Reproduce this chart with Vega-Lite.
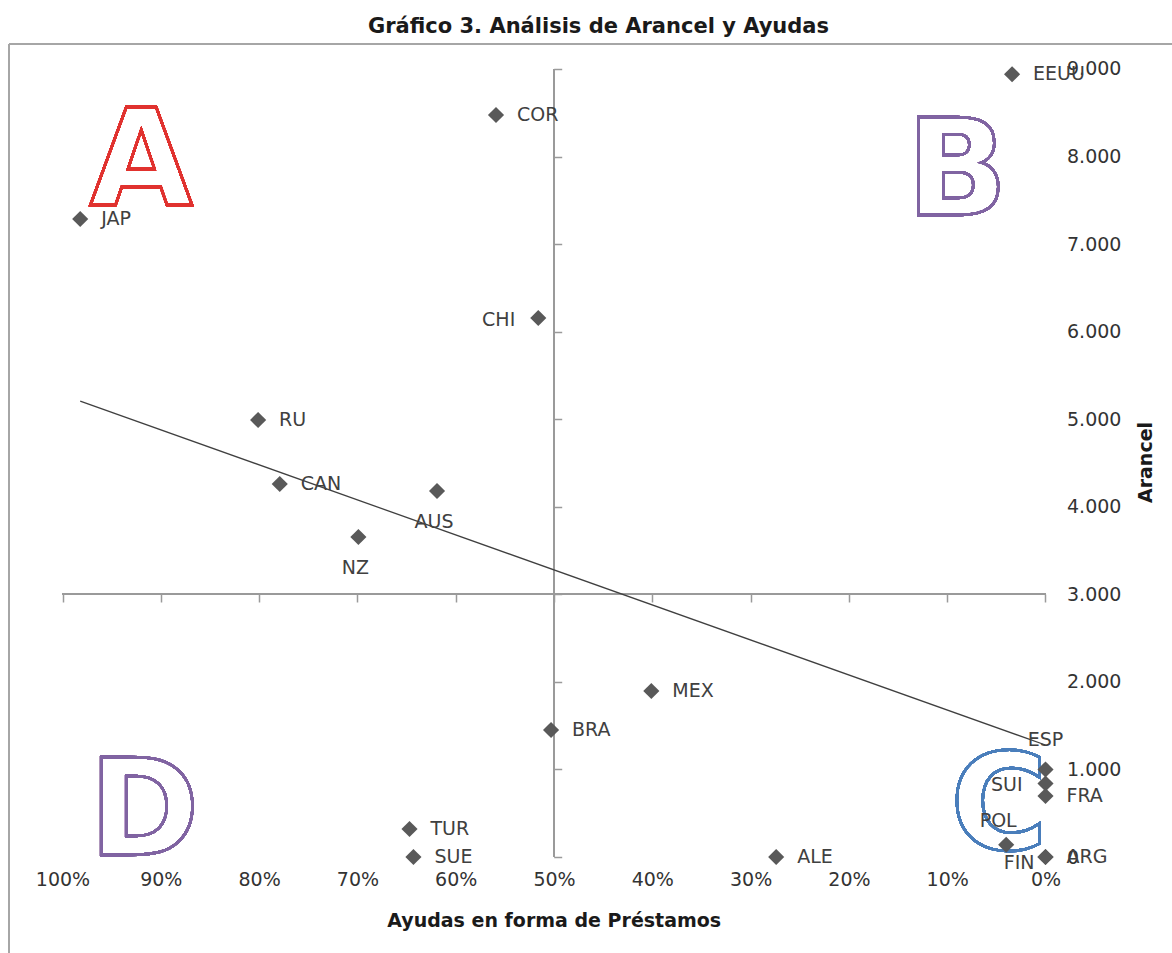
{
  "$schema": "https://vega.github.io/schema/vega-lite/v6.json",
  "autosize": {"type": "none"},
  "padding": {"left": 9, "top": 44, "right": 0, "bottom": 0},
  "width": 1163,
  "height": 909,
  "background": "white",
  "title": {"text": "Gráfico 3. Análisis de Arancel y Ayudas", "font": "DejaVu Sans", "fontSize": 21, "fontWeight": "bold", "color": "#1a1a1a", "anchor": "middle", "baseline": "bottom", "offset": 8, "dx": 8, "dy": 23},
  "config": {
    "view": {"stroke": null},
    "axis": {"grid": false, "labelFont": "DejaVu Sans", "titleFont": "DejaVu Sans"}
  },
  "data": {"values": [
    {"pais": "EEUU", "ayudas": 0.034, "arancel": 8940},
    {"pais": "COR", "ayudas": 0.559, "arancel": 8475},
    {"pais": "JAP", "ayudas": 0.982, "arancel": 7287},
    {"pais": "CHI", "ayudas": 0.516, "arancel": 6156},
    {"pais": "RU", "ayudas": 0.801, "arancel": 4991},
    {"pais": "CAN", "ayudas": 0.779, "arancel": 4260},
    {"pais": "AUS", "ayudas": 0.619, "arancel": 4180},
    {"pais": "NZ", "ayudas": 0.699, "arancel": 3655},
    {"pais": "MEX", "ayudas": 0.401, "arancel": 1896},
    {"pais": "BRA", "ayudas": 0.503, "arancel": 1450},
    {"pais": "TUR", "ayudas": 0.647, "arancel": 320},
    {"pais": "SUE", "ayudas": 0.643, "arancel": 0},
    {"pais": "ALE", "ayudas": 0.274, "arancel": 0},
    {"pais": "ESP", "ayudas": 0, "arancel": 1000},
    {"pais": "SUI", "ayudas": 0, "arancel": 840},
    {"pais": "FRA", "ayudas": 0, "arancel": 697},
    {"pais": "POL", "ayudas": 0.04, "arancel": 140},
    {"pais": "FIN", "ayudas": 0, "arancel": 0},
    {"pais": "ARG", "ayudas": 0, "arancel": 0}
  ]},
  "resolve": {"axis": {"x": "independent", "y": "independent"}},
  "layer": [
    {
      "mark": {"type": "rule", "color": "#a6a6a6", "strokeWidth": 2},
      "encoding": {
        "y": {"datum": 9285.5, "type": "quantitative", "scale": {"domain": [-1096.4, 9285.5], "nice": false, "zero": false}, "axis": null},
        "x": {"datum": -0.12869, "type": "quantitative", "scale": {"domain": [-0.12869, 1.05443], "reverse": true, "nice": false, "zero": false}, "axis": null},
        "x2": {"datum": 1.05443}
      }
    },
    {
      "mark": {"type": "rule", "color": "#a6a6a6", "strokeWidth": 2},
      "encoding": {
        "x": {"datum": 1.05443, "type": "quantitative", "scale": {"domain": [-0.12869, 1.05443], "reverse": true, "nice": false, "zero": false}, "axis": null},
        "y": {"datum": -1096.4, "type": "quantitative", "scale": {"domain": [-1096.4, 9285.5], "nice": false, "zero": false}, "axis": null},
        "y2": {"datum": 9285.5}
      }
    },
    {
      "mark": {"type": "rule", "color": "#9a9a9a", "strokeWidth": 1.5},
      "encoding": {
        "x": {"datum": 0.5, "type": "quantitative", "scale": {"domain": [-0.12869, 1.05443], "reverse": true, "nice": false, "zero": false},
              "axis": {"orient": "bottom", "offset": -359, "values": [0, 0.1, 0.2, 0.3, 0.4, 0.5, 0.6, 0.7, 0.8, 0.9, 1], "domain": false, "labels": false, "ticks": true, "tickSize": 8, "tickColor": "#9a9a9a", "tickWidth": 1.5, "title": null}},
        "y": {"datum": 0, "type": "quantitative", "scale": {"domain": [-1096.4, 9285.5], "nice": false, "zero": false},
              "axis": {"orient": "right", "offset": -618.3, "values": [0, 1000, 2000, 3000, 4000, 5000, 6000, 7000, 8000, 9000], "domain": false, "labels": false, "ticks": true, "tickSize": 8, "tickColor": "#9a9a9a", "tickWidth": 1.5, "title": null}},
        "y2": {"datum": 9000}
      }
    },
    {
      "mark": {"type": "rule", "color": "#9a9a9a", "strokeWidth": 1.5},
      "encoding": {
        "y": {"datum": 3000, "type": "quantitative", "scale": {"domain": [-1096.4, 9285.5], "nice": false, "zero": false}, "axis": null},
        "x": {"datum": 0, "type": "quantitative", "scale": {"domain": [-0.12869, 1.05443], "reverse": true, "nice": false, "zero": false}, "axis": null},
        "x2": {"datum": 1}
      }
    },
    {
      "mark": {"type": "text", "font": "DejaVu Sans", "fontWeight": "bold", "fontSize": 133, "align": "center", "baseline": "alphabetic", "fill": "transparent", "stroke": "#e0322f", "strokeWidth": 2.5},
      "encoding": {
        "x": {"datum": 0.92, "type": "quantitative", "scale": {"domain": [-0.12869, 1.05443], "reverse": true, "nice": false, "zero": false}, "axis": null},
        "y": {"datum": 7447, "type": "quantitative", "scale": {"domain": [-1096.4, 9285.5], "nice": false, "zero": false}, "axis": null},
        "text": {"value": "A"}
      }
    },
    {
      "mark": {"type": "text", "font": "DejaVu Sans", "fontWeight": "bold", "fontSize": 133, "align": "center", "baseline": "alphabetic", "fill": "transparent", "stroke": "#8064a2", "strokeWidth": 2.5},
      "encoding": {
        "x": {"datum": 0.09, "type": "quantitative", "scale": {"domain": [-0.12869, 1.05443], "reverse": true, "nice": false, "zero": false}, "axis": null},
        "y": {"datum": 7332, "type": "quantitative", "scale": {"domain": [-1096.4, 9285.5], "nice": false, "zero": false}, "axis": null},
        "text": {"value": "B"}
      }
    },
    {
      "mark": {"type": "text", "font": "DejaVu Sans", "fontWeight": "bold", "fontSize": 133, "align": "center", "baseline": "alphabetic", "fill": "transparent", "stroke": "#4a7ebb", "strokeWidth": 2.5},
      "encoding": {
        "x": {"datum": 0.0473, "type": "quantitative", "scale": {"domain": [-0.12869, 1.05443], "reverse": true, "nice": false, "zero": false}, "axis": null},
        "y": {"datum": 91, "type": "quantitative", "scale": {"domain": [-1096.4, 9285.5], "nice": false, "zero": false}, "axis": null},
        "text": {"value": "C"}
      }
    },
    {
      "mark": {"type": "text", "font": "DejaVu Sans", "fontWeight": "bold", "fontSize": 133, "align": "center", "baseline": "alphabetic", "fill": "transparent", "stroke": "#8064a2", "strokeWidth": 2.5},
      "encoding": {
        "x": {"datum": 0.917, "type": "quantitative", "scale": {"domain": [-0.12869, 1.05443], "reverse": true, "nice": false, "zero": false}, "axis": null},
        "y": {"datum": 23, "type": "quantitative", "scale": {"domain": [-1096.4, 9285.5], "nice": false, "zero": false}, "axis": null},
        "text": {"value": "D"}
      }
    },
    {
      "transform": [{"regression": "arancel", "on": "ayudas"}],
      "mark": {"type": "line", "color": "#404040", "strokeWidth": 1.3},
      "encoding": {
        "x": {"field": "ayudas", "type": "quantitative", "scale": {"domain": [-0.12869, 1.05443], "reverse": true, "nice": false, "zero": false}, "axis": null},
        "y": {"field": "arancel", "type": "quantitative", "scale": {"domain": [-1096.4, 9285.5], "nice": false, "zero": false}, "axis": null}
      }
    },
    {
      "mark": {"type": "point", "shape": "diamond", "filled": true, "color": "#595959", "size": 260, "opacity": 1},
      "encoding": {
        "x": {"field": "ayudas", "type": "quantitative", "scale": {"domain": [-0.12869, 1.05443], "reverse": true, "nice": false, "zero": false},
              "axis": {"orient": "bottom", "offset": -96, "values": [0, 0.1, 0.2, 0.3, 0.4, 0.5, 0.6, 0.7, 0.8, 0.9, 1], "format": ".0%", "domain": false, "ticks": false, "labelPadding": 13, "labelFontSize": 19, "labelColor": "#333333", "labelFlush": false, "labelOverlap": false, "labelBound": false,
                       "title": "Ayudas en forma de Préstamos", "titleFontSize": 19, "titleFontWeight": "bold", "titleColor": "#1a1a1a", "titleX": 544.7, "titleY": 63, "titleBaseline": "middle", "titleAlign": "center"}},
        "y": {"field": "arancel", "type": "quantitative", "scale": {"domain": [-1096.4, 9285.5], "nice": false, "zero": false},
              "axis": {"orient": "right", "offset": -126.5, "values": [0, 1000, 2000, 3000, 4000, 5000, 6000, 7000, 8000, 9000], "labelExpr": "replace(format(datum.value, ','), ',', '.')", "domain": false, "ticks": false, "labelPadding": 21, "labelFontSize": 19, "labelColor": "#333333", "labelFlush": false, "labelOverlap": false, "labelBound": false,
                       "title": "Arancel", "titleFontSize": 19, "titleFontWeight": "bold", "titleColor": "#1a1a1a", "titleAngle": -90, "titleX": 99.5, "titleY": 418, "titleAlign": "center", "titleBaseline": "middle"}}
      }
    },
    {
      "transform": [{"filter": {"not": {"field": "pais", "oneOf": ["CHI", "SUI", "AUS", "NZ", "ESP", "POL", "FIN"]}}}],
      "mark": {"type": "text", "font": "DejaVu Sans", "fontSize": 19, "color": "#404040", "align": "left", "baseline": "middle", "dx": 21},
      "encoding": {
        "x": {"field": "ayudas", "type": "quantitative", "scale": {"domain": [-0.12869, 1.05443], "reverse": true, "nice": false, "zero": false}, "axis": null},
        "y": {"field": "arancel", "type": "quantitative", "scale": {"domain": [-1096.4, 9285.5], "nice": false, "zero": false}, "axis": null},
        "text": {"field": "pais"}
      }
    },
    {
      "transform": [{"filter": {"field": "pais", "oneOf": ["CHI", "SUI"]}}],
      "mark": {"type": "text", "font": "DejaVu Sans", "fontSize": 19, "color": "#404040", "align": "right", "baseline": "middle", "dx": -23, "dy": 2},
      "encoding": {
        "x": {"field": "ayudas", "type": "quantitative", "scale": {"domain": [-0.12869, 1.05443], "reverse": true, "nice": false, "zero": false}, "axis": null},
        "y": {"field": "arancel", "type": "quantitative", "scale": {"domain": [-1096.4, 9285.5], "nice": false, "zero": false}, "axis": null},
        "text": {"field": "pais"}
      }
    },
    {
      "transform": [{"filter": {"field": "pais", "oneOf": ["AUS", "NZ"]}}],
      "mark": {"type": "text", "font": "DejaVu Sans", "fontSize": 19, "color": "#404040", "align": "center", "baseline": "middle", "dx": -3, "dy": 31},
      "encoding": {
        "x": {"field": "ayudas", "type": "quantitative", "scale": {"domain": [-0.12869, 1.05443], "reverse": true, "nice": false, "zero": false}, "axis": null},
        "y": {"field": "arancel", "type": "quantitative", "scale": {"domain": [-1096.4, 9285.5], "nice": false, "zero": false}, "axis": null},
        "text": {"field": "pais"}
      }
    },
    {
      "transform": [{"filter": {"field": "pais", "oneOf": ["ESP"]}}],
      "mark": {"type": "text", "font": "DejaVu Sans", "fontSize": 19, "color": "#404040", "align": "center", "baseline": "middle", "dx": 0, "dy": -29},
      "encoding": {
        "x": {"field": "ayudas", "type": "quantitative", "scale": {"domain": [-0.12869, 1.05443], "reverse": true, "nice": false, "zero": false}, "axis": null},
        "y": {"field": "arancel", "type": "quantitative", "scale": {"domain": [-1096.4, 9285.5], "nice": false, "zero": false}, "axis": null},
        "text": {"field": "pais"}
      }
    },
    {
      "transform": [{"filter": {"field": "pais", "oneOf": ["POL"]}}],
      "mark": {"type": "text", "font": "DejaVu Sans", "fontSize": 19, "color": "#404040", "align": "center", "baseline": "middle", "dx": -8, "dy": -24},
      "encoding": {
        "x": {"field": "ayudas", "type": "quantitative", "scale": {"domain": [-0.12869, 1.05443], "reverse": true, "nice": false, "zero": false}, "axis": null},
        "y": {"field": "arancel", "type": "quantitative", "scale": {"domain": [-1096.4, 9285.5], "nice": false, "zero": false}, "axis": null},
        "text": {"field": "pais"}
      }
    },
    {
      "transform": [{"filter": {"field": "pais", "oneOf": ["FIN"]}}],
      "mark": {"type": "text", "font": "DejaVu Sans", "fontSize": 19, "color": "#404040", "align": "right", "baseline": "middle", "dx": -11, "dy": 6},
      "encoding": {
        "x": {"field": "ayudas", "type": "quantitative", "scale": {"domain": [-0.12869, 1.05443], "reverse": true, "nice": false, "zero": false}, "axis": null},
        "y": {"field": "arancel", "type": "quantitative", "scale": {"domain": [-1096.4, 9285.5], "nice": false, "zero": false}, "axis": null},
        "text": {"field": "pais"}
      }
    }
  ]
}
